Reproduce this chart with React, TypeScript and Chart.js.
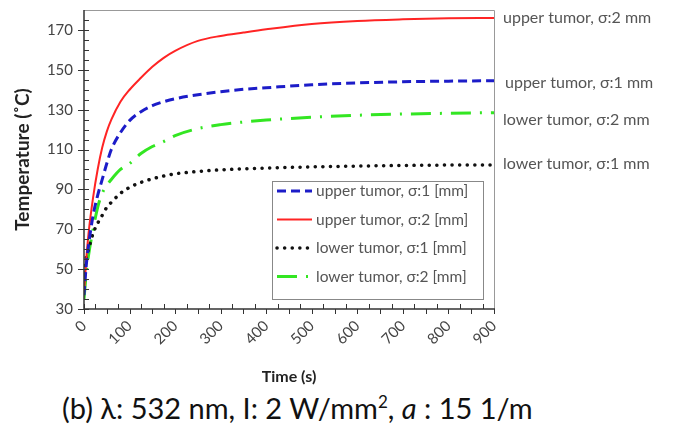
import React, { useEffect, useRef } from "react";
import { Chart, registerables } from "chart.js";

Chart.register(...registerables);

const timeS = [0, 5, 10, 20, 30, 40, 50, 60, 80, 100, 125, 150, 175, 200, 250, 300, 350, 400, 500, 600, 700, 800, 900];
const upperSigma1 = [37, 52, 62, 77, 87, 95, 103, 110, 118.5, 124.5, 129, 132, 134, 135.5, 137.5, 139, 140.2, 141, 142.5, 143.4, 144, 144.3, 144.5];
const upperSigma2 = [37, 55, 68, 86, 100, 111, 119, 125, 134, 140, 146, 151.5, 156, 159.5, 164.5, 167, 168.7, 170.3, 173, 174.5, 175.3, 175.8, 176];
const lowerSigma1 = [48, 56, 60, 68, 73, 77, 81, 83.5, 88, 91, 93.5, 95.3, 96.7, 97.8, 99, 99.8, 100.3, 100.7, 101.3, 101.7, 102, 102.2, 102.3];
const lowerSigma2 = [35, 48, 57, 70, 81, 88, 92, 95, 100, 103, 108, 111.5, 114, 117, 120.5, 122.5, 123.8, 124.8, 126.2, 127.2, 127.8, 128.2, 128.5];

const legendLabels = ["upper tumor, \u03C3:1 [mm]", "upper tumor, \u03C3:2 [mm]", "lower tumor, \u03C3:1 [mm]", "lower tumor, \u03C3:2 [mm]"];
const sideLabels = ["upper tumor, \u03C3:2 mm", "upper tumor, \u03C3:1 mm", "lower tumor, \u03C3:2 mm", "lower tumor, \u03C3:1 mm"];
const sideLabelValues = [176.2, 143.6, 125, 102.9];

const yMin = 30;
const yMax = 180;
const xMin = 0;
const xMax = 900;

const FONT = "Lato, 'Open Sans', sans-serif";

const seriesStyles = [
  { color: "#1c1cc8", width: 3, dash: [9, 5], cap: "butt" },
  { color: "#ff2424", width: 2, dash: [], cap: "butt" },
  { color: "#111111", width: 3.5, dash: [0.1, 7.5], cap: "round" },
  { color: "#33e622", width: 3, dash: [20, 9, 2, 9], cap: "butt" },
];

const framePlugin = {
  id: "frame",
  afterDraw(chart: any) {
    const { ctx, chartArea } = chart;
    const { left, right, top, bottom } = chartArea;
    const xs = chart.scales.x;
    const ys = chart.scales.y;
    ctx.save();
    ctx.strokeStyle = "#999";
    ctx.lineWidth = 1;
    ctx.beginPath();
    ctx.moveTo(left, top + 0.5);
    ctx.lineTo(right + 0.5, top + 0.5);
    ctx.lineTo(right + 0.5, bottom);
    ctx.stroke();
    ctx.strokeStyle = "#333";
    ctx.lineWidth = 1.5;
    ctx.beginPath();
    ctx.moveTo(left, top);
    ctx.lineTo(left, bottom);
    ctx.lineTo(right + 1, bottom);
    ctx.stroke();
    ctx.lineWidth = 1;
    for (let v = yMin; v <= 175; v += 5) {
      const y = Math.round(ys.getPixelForValue(v)) + 0.5;
      const major = (v - yMin) % 20 === 0;
      ctx.beginPath();
      ctx.moveTo(major ? left - 6 : left, y);
      ctx.lineTo(left + 5, y);
      ctx.stroke();
    }
    for (let v = xMin; v <= xMax; v += 25) {
      const x = Math.round(xs.getPixelForValue(v)) + 0.5;
      const outward = v % 50 === 0;
      ctx.beginPath();
      if (v === 0) {
        ctx.moveTo(x, bottom - 5);
        ctx.lineTo(x, bottom + 5);
      } else if (outward) {
        ctx.moveTo(x, bottom);
        ctx.lineTo(x, bottom + 5);
      } else {
        ctx.moveTo(x, bottom - 5);
        ctx.lineTo(x, bottom);
      }
      ctx.stroke();
    }
    const bx = right - 222;
    const by = top + 171;
    const bw = 211;
    const bh = 118;
    ctx.fillStyle = "#fff";
    ctx.fillRect(bx, by, bw, bh);
    ctx.strokeStyle = "#888";
    ctx.lineWidth = 1;
    ctx.strokeRect(bx + 0.5, by + 0.5, bw, bh);
    ctx.font = `15.5px ${FONT}`;
    ctx.textBaseline = "middle";
    ctx.textAlign = "left";
    legendLabels.forEach((label, i) => {
      const st = seriesStyles[i];
      const ly = by + 10 + i * 28.5;
      ctx.save();
      ctx.strokeStyle = st.color;
      ctx.lineWidth = st.width;
      ctx.setLineDash(st.dash);
      ctx.lineCap = st.cap as CanvasLineCap;
      ctx.beginPath();
      ctx.moveTo(bx + 5, ly);
      ctx.lineTo(bx + 40, ly);
      ctx.stroke();
      ctx.restore();
      ctx.fillStyle = "#555";
      ctx.fillText(label, bx + 44, ly);
    });
    ctx.font = `16px ${FONT}`;
    ctx.fillStyle = "#555";
    sideLabels.forEach((label, i) => {
      const y = ys.getPixelForValue(sideLabelValues[i]);
      ctx.fillText(label, right + (i === 1 ? 11 : 9), y);
    });
    ctx.restore();
  },
};

export default function App() {
  const canvasRef = useRef<HTMLCanvasElement>(null);

  useEffect(() => {
    const seriesData = [upperSigma1, upperSigma2, lowerSigma1, lowerSigma2];
    const chart = new Chart(canvasRef.current as HTMLCanvasElement, {
      type: "line",
      data: {
        datasets: seriesData.map((vals, i) => ({
          label: legendLabels[i],
          data: vals.map((v, j) => ({ x: timeS[j], y: v })),
          borderColor: seriesStyles[i].color,
          borderWidth: seriesStyles[i].width,
          borderDash: seriesStyles[i].dash,
          borderCapStyle: seriesStyles[i].cap as CanvasLineCap,
          pointRadius: 0,
          fill: false,
          cubicInterpolationMode: "monotone" as const,
        })),
      },
      options: {
        animation: false,
        responsive: false,
        layout: { padding: { left: 0, right: 180, top: 10, bottom: 0 } },
        plugins: { legend: { display: false }, tooltip: { enabled: false } },
        scales: {
          x: {
            type: "linear",
            min: xMin,
            max: xMax,
            grid: { display: false, drawTicks: false },
            border: { display: false },
            ticks: {
              stepSize: 100,
              minRotation: 45,
              maxRotation: 45,
              padding: 8,
              color: "#444",
              font: { family: FONT, size: 15 },
            },
            title: {
              display: true,
              text: "Time (s)",
              color: "#222",
              font: { family: FONT, size: 16, weight: "bold" },
              padding: { top: 0, bottom: 4 },
            },
            afterFit: (scale: any) => {
              scale.height = 81;
              scale.paddingLeft = 0;
              scale.paddingRight = 0;
            },
          },
          y: {
            type: "linear",
            min: yMin,
            max: yMax,
            grid: { display: false, drawTicks: false },
            border: { display: false },
            ticks: {
              stepSize: 5,
              autoSkip: false,
              padding: 11,
              color: "#444",
              font: { family: FONT, size: 15 },
              callback: (v: any) => ((Number(v) - yMin) % 20 === 0 && Number(v) <= 170 ? String(v) : ""),
            },
            title: {
              display: true,
              text: "Temperature (\u02DAC)",
              color: "#222",
              font: { family: FONT, size: 19, weight: "bold" },
              padding: { top: 11, bottom: 0 },
            },
            afterFit: (scale: any) => {
              scale.width = 84;
              scale.paddingTop = 0;
              scale.paddingBottom = 0;
            },
          },
        },
      },
      plugins: [framePlugin],
    });
    return () => chart.destroy();
  }, []);

  return (
    <div style={{ position: "fixed", left: 0, top: 0, width: 674, height: 430, background: "#fff" }}>
      <canvas ref={canvasRef} width={674} height={390} style={{ display: "block" }} />
      <div
        style={{
          position: "absolute",
          left: 62,
          top: 390,
          fontFamily: FONT,
          fontSize: 29,
          color: "#111",
          whiteSpace: "nowrap",
        }}
      >
        (b) {"\u03BB"}: 532 nm, I: 2 W/mm<sup style={{ fontSize: 17, verticalAlign: "11px", lineHeight: 0 }}>2</sup>, <i>a</i> : 15 1/m
      </div>
    </div>
  );
}
